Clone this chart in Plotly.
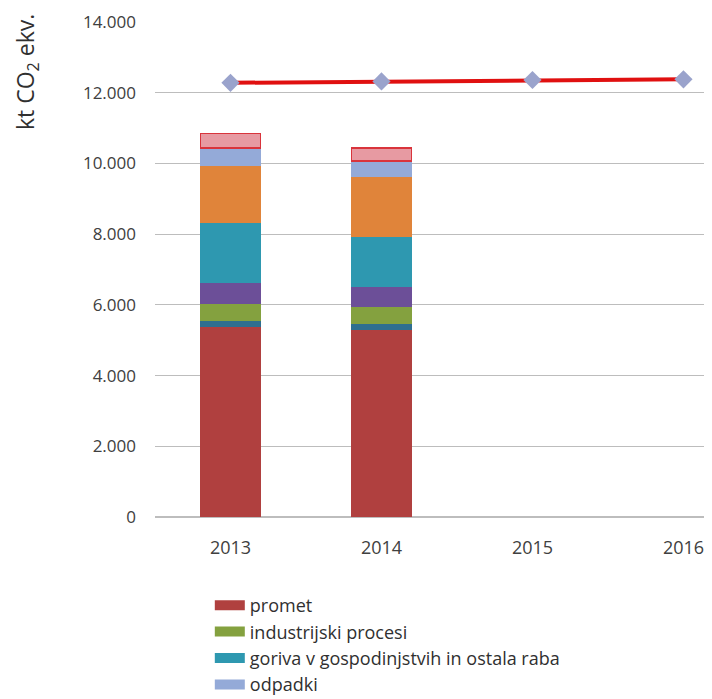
import plotly.graph_objects as go

years = ["2013", "2014", "2015", "2016"]
bar_years = ["2013", "2014"]

promet = [5370, 5290]
strip = [170, 170]
industrijski = [480, 480]
purple = [590, 570]
goriva = [1700, 1410]
orange = [1610, 1700]
odpadki = [510, 450]
pink = [420, 370]

line_vals = [12280, 12320, 12360, 12380]

series = [
    ("promet", promet, "#b0403f", True),
    ("ostalo 1", strip, "#2f6f90", False),
    ("industrijski procesi", industrijski, "#84a13f", True),
    ("ostalo 2", purple, "#6c4f98", False),
    ("goriva v gospodinjstvih in ostala raba", goriva, "#2e98b0", True),
    ("ostalo 3", orange, "#e0843a", False),
    ("odpadki", odpadki, "#94aad8", True),
    ("ostalo 4", pink, "#e79aa2", False),
]

fig = go.Figure()
for name, vals, color, show in series:
    line = dict(width=0)
    if name == "ostalo 4":
        line = dict(color="#d9343c", width=1.5)
    fig.add_trace(go.Bar(x=bar_years, y=vals, name=name, marker=dict(color=color, line=line),
                         legendgroup=name, showlegend=False))

fig.add_trace(go.Scatter(x=years, y=line_vals, mode="lines+markers", name="cilj",
                         line=dict(color="#e01010", width=4),
                         marker=dict(symbol="diamond", size=14, color="#9aa3cc"),
                         showlegend=False))

# legend entries (wide swatches) linked to the bar series
for name, vals, color, show in series:
    if show:
        fig.add_trace(go.Scatter(x=[None], y=[None], mode="lines", name=name,
                                 legendgroup=name, line=dict(color=color, width=10),
                                 showlegend=True, hoverinfo="skip"))

fig.update_layout(
    width=712, height=699,
    margin=dict(l=147, r=0, t=14, b=190, autoexpand=False),
    barmode="stack", bargap=0.6,
    plot_bgcolor="white", paper_bgcolor="white",
    separators=",.",
    font=dict(family="Open Sans, DejaVu Sans, sans-serif", color="#404040"),
    xaxis=dict(type="category", range=[-0.5, 3.242], showgrid=False, showline=False,
               ticks="", tickfont=dict(size=18, color="#404040"), ticklabelstandoff=18),
    yaxis=dict(range=[0, 14000], dtick=2000, tickformat=",d", showgrid=True,
               gridcolor="#bdbdbd", gridwidth=1, zeroline=True, zerolinecolor="#bdbdbd",
               showline=False, ticks="", ticklen=0, tickfont=dict(size=17, color="#404040"),
               ticklabelstandoff=18),
    legend=dict(orientation="v", x=0.097, xanchor="left", y=-0.1414, yanchor="top",
                font=dict(size=18, color="#303030"), traceorder="normal",
                tracegroupgap=0, itemclick=False, itemdoubleclick=False),
    showlegend=True,
    annotations=[dict(text="kt CO<sub>2</sub> ekv.", xref="paper", yref="paper",
                      x=-0.2265, y=0.899, xanchor="center", yanchor="middle", textangle=-90,
                      showarrow=False, font=dict(size=23, color="#303030"))],
)

fig.write_html("out.html")
